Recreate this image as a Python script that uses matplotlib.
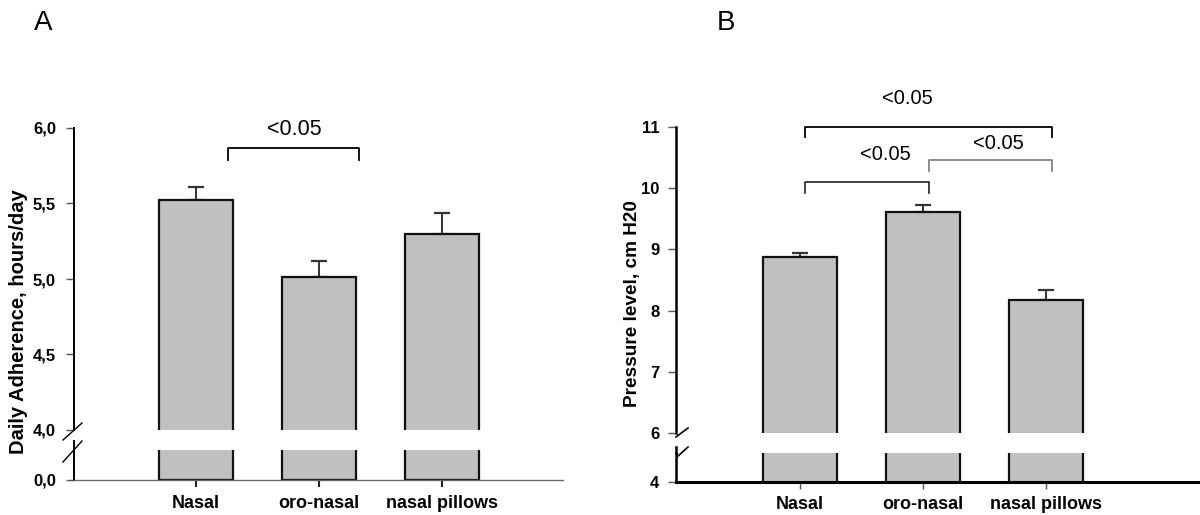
import matplotlib
matplotlib.use("Agg")
import matplotlib.pyplot as plt
from matplotlib.lines import Line2D

plt.rcParams['font.family'] = ['Liberation Sans', 'DejaVu Sans']

categories = ["Nasal", "oro-nasal", "nasal pillows"]
adherence_mean = [5.52, 5.01, 5.30]
adherence_sem = [0.09, 0.11, 0.14]
pressure_mean = [8.88, 9.61, 8.18]
pressure_sem = [0.06, 0.12, 0.15]
a_ticks = [4.0, 4.5, 5.0, 5.5, 6.0]
a_ticklabels = ["4,0", "4,5", "5,0", "5,5", "6,0"]
b_ticks = [6, 7, 8, 9, 10, 11]
b_ticklabels = ["6", "7", "8", "9", "10", "11"]
sig_label = "<0.05"

W, H = 1200, 515
fig = plt.figure(figsize=(W / 100, H / 100), dpi=100)


def rect(x0, y0, x1, y1):
    return [x0 / W, 1 - y1 / H, (x1 - x0) / W, (y1 - y0) / H]


def fline(pts, **kw):
    xs = [p[0] / W for p in pts]
    ys = [1 - p[1] / H for p in pts]
    fig.add_artist(Line2D(xs, ys, transform=fig.transFigure, **kw))


BAR_FC = "#c0c0c0"
x = list(range(len(categories)))


def draw_bars(ax, means, errs=None):
    ax.bar(x, means, width=0.6, color=BAR_FC, edgecolor="#111111",
           linewidth=1.6, zorder=2)
    if errs is not None:
        ax.errorbar(x, means, yerr=[[0] * len(errs), errs], fmt="none",
                    ecolor="#333333", elinewidth=1.4, capsize=5.5,
                    capthick=1.6, zorder=1)


TICKFS = 12
XLFS = 13

# ---------------- Panel A ----------------
axA = fig.add_axes(rect(74, 128, 563, 430))
axA_lo = fig.add_axes(rect(74, 450, 563, 480))
draw_bars(axA, adherence_mean, adherence_sem)
draw_bars(axA_lo, adherence_mean)
xlimA = (-0.99, 2.98)
for a in (axA, axA_lo):
    a.set_xlim(*xlimA)
    a.spines['top'].set_visible(False)
    a.spines['right'].set_visible(False)
    a.patch.set_visible(False)
axA.set_ylim(4.0, 6.0)
axA.spines['bottom'].set_visible(False)
axA.spines['left'].set_linewidth(1.4)
axA.set_xticks([])
axA.set_yticks(a_ticks)
axA.set_yticklabels(a_ticklabels, fontsize=TICKFS, fontweight='bold')
axA.tick_params(axis='y', length=6, width=1.0, pad=7, color="#555555")
axA_lo.set_ylim(0, 1)
axA_lo.set_yticks([0])
axA_lo.set_yticklabels(["0,0"], fontsize=TICKFS, fontweight='bold')
axA_lo.tick_params(axis='y', length=6, width=1.0, pad=7, color="#555555")
axA_lo.spines['left'].set_linewidth(1.4)
axA_lo.spines['bottom'].set_linewidth(1.0)
axA_lo.spines['bottom'].set_color("#666666")
axA_lo.set_xticks(x)
axA_lo.set_xticklabels(categories, fontsize=XLFS, fontweight='bold')
axA_lo.tick_params(axis='x', length=5, width=1.5, pad=6, color="#222222")
fline([(74, 441), (74, 450)], color="black", lw=1.4)
fline([(63, 440), (82, 423)], color="black", lw=1.0)
fline([(63, 462), (82, 441)], color="black", lw=1.0)

axA.plot([0.26, 0.26, 1.325, 1.325], [5.79, 5.865, 5.865, 5.79],
         color="black", lw=1.3, clip_on=False)
axA.text(0.80, 5.99, sig_label, ha='center', va='center', fontsize=15.5,
         fontweight='medium', clip_on=False)

fig.text(19 / W, 1 - 322 / H, "Daily Adherence, hours/day", rotation=90,
         ha='center', va='center', fontsize=14.5, fontweight='bold')
fig.text(43 / W, 1 - 23 / H, "A", ha='center', va='center', fontsize=20)

# ---------------- Panel B ----------------
axB = fig.add_axes(rect(676, 127, 1200, 433))
axB_lo = fig.add_axes(rect(676, 453, 1200, 482))
draw_bars(axB, pressure_mean, pressure_sem)
draw_bars(axB_lo, pressure_mean)
xlimB = (-1.01, 3.25)
for a in (axB, axB_lo):
    a.set_xlim(*xlimB)
    a.spines['top'].set_visible(False)
    a.spines['right'].set_visible(False)
    a.patch.set_visible(False)
axB.set_ylim(6, 11)
axB.spines['bottom'].set_visible(False)
axB.spines['left'].set_linewidth(1.8)
axB.set_xticks([])
axB.set_yticks(b_ticks)
axB.set_yticklabels(b_ticklabels, fontsize=TICKFS, fontweight='bold')
axB.tick_params(axis='y', length=6, width=1.0, pad=6, color="#555555")
axB_lo.set_ylim(4, 5)
axB_lo.set_yticks([4])
axB_lo.set_yticklabels(["4"], fontsize=TICKFS, fontweight='bold')
axB_lo.tick_params(axis='y', length=6, width=1.0, pad=6, color="#555555")
axB_lo.spines['left'].set_linewidth(1.8)
axB_lo.spines['bottom'].set_linewidth(2.2)
axB_lo.set_xticks(x)
axB_lo.set_xticklabels(categories, fontsize=XLFS, fontweight='bold')
axB_lo.tick_params(axis='x', length=5, width=1.0, pad=5, color="#555555")
fline([(676, 447), (676, 453)], color="black", lw=1.8)
fline([(676, 437), (688, 428)], color="black", lw=1.2)
fline([(677, 457), (688, 447)], color="black", lw=1.2)

axB.plot([0.04, 0.04, 2.05, 2.05], [10.83, 11.0, 11.0, 10.83],
         color="black", lw=1.3, clip_on=False)
axB.plot([0.04, 0.04, 1.05, 1.05], [9.92, 10.10, 10.10, 9.92],
         color="#222222", lw=1.2, clip_on=False)
axB.plot([1.05, 1.05, 2.05, 2.05], [10.28, 10.46, 10.46, 10.28],
         color="#777777", lw=1.2, clip_on=False)
for tx, ty in [(0.87, 11.47), (0.69, 10.55), (1.61, 10.73)]:
    axB.text(tx, ty, sig_label, ha='center', va='center', fontsize=14.5,
             fontweight='medium', clip_on=False)

fig.text(633 / W, 1 - 304 / H, "Pressure level, cm H20", rotation=90,
         ha='center', va='center', fontsize=13.7, fontweight='bold')
fig.text(726 / W, 1 - 23 / H, "B", ha='center', va='center', fontsize=20)

fig.savefig("out.png", dpi=100, facecolor="white")
